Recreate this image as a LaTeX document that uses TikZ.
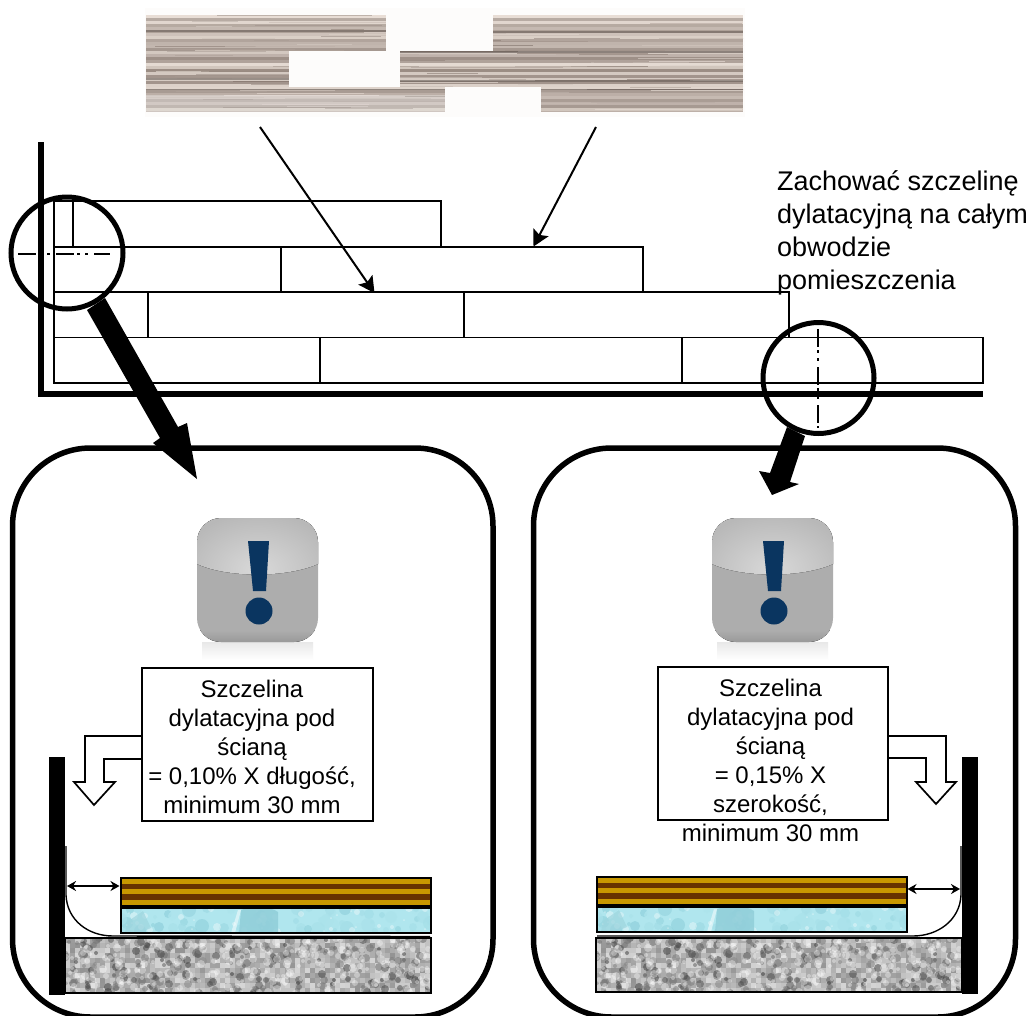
\documentclass[tikz,border=0pt]{standalone}
\usepackage{fontspec}
\setmainfont{Liberation Sans}
\usetikzlibrary{shadings,arrows.meta}
\definecolor{navy}{HTML}{0A3560}
\definecolor{woodgold}{HTML}{C89800}
\definecolor{woodbrown}{HTML}{663300}
\definecolor{foam}{HTML}{B0E6EE}
\definecolor{foamdark}{HTML}{86CAD6}
\definecolor{stripedark}{HTML}{85766E}
\definecolor{stripelight}{HTML}{F0E6DE}
\definecolor{sheet}{HTML}{FDFCFB}
\tikzset{
  plank/.style={draw=black,line width=1.7pt,fill=white},
  wallbar/.style={fill=black},
  pointer/.style={line width=2pt,-{Stealth[length=16pt,width=17pt,inset=3pt]}},
  lens/.style={draw=black,line width=5pt},
  centerline/.style={line width=2pt,dash pattern=on 18pt off 3pt on 3pt off 5pt on 3pt off 6pt},
  panel/.style={draw=black,line width=5.5pt,rounded corners=78pt,outer sep=0pt},
  bigarrow/.style={fill=black},
  calloutbox/.style={draw=black,line width=1.8pt,fill=white,inner sep=0pt,outer sep=0pt,anchor=north west},
  callouttext/.style={inner sep=0pt,align=center,anchor=north,font=\fontsize{24}{29}\selectfont},
  openarrow/.style={draw=black,line width=1.7pt,fill=white},
  gap/.style={line width=1.8pt,{Stealth[length=9pt,width=10pt]}-{Stealth[length=9pt,width=10pt]}},
  thinline/.style={line width=1.4pt},
}
% laminate and foam layers, origin at the top left of the laminate
\newcommand{\floorstack}{%
  \fill[woodgold] (0,0) rectangle (310,28);
  \fill[woodbrown] (0,5.5) rectangle (310,11);
  \fill[woodbrown] (0,15.5) rectangle (310,21.5);
  \draw[black,line width=1.6pt] (0,0) rectangle (310,28);
  \begin{scope}
    \clip (0,30) rectangle (310,55);
    \fill[foam] (0,30) rectangle (310,55);
    \pgfmathsetseed{77}
    \foreach \i in {1,...,70}{
      \pgfmathrandominteger{\rx}{0}{310}
      \pgfmathrandominteger{\ry}{30}{55}
      \pgfmathrandominteger{\rr}{2}{7}
      \pgfmathrandominteger{\rm}{0}{80}
      \fill[foamdark!\rm!foam,opacity=.7] (\rx,\ry) circle (\rr);
    }
    \foreach \i in {1,...,40}{
      \pgfmathrandominteger{\rx}{0}{310}
      \pgfmathrandominteger{\ry}{30}{55}
      \pgfmathrandominteger{\rr}{1}{4}
      \fill[white,opacity=.35] (\rx,\ry) circle (\rr);
    }
    \fill[foamdark!90!white,opacity=.9] (120,32) .. controls (128,28) and (150,28) .. (157,34) -- (157,55) -- (118,55) -- cycle;
    \fill[white,opacity=.5] (110,55) -- (117,32) -- (120,32) -- (114,55) -- cycle;
    \fill[foamdark!80!white,opacity=.7] (6,44) -- (22,33) -- (30,50) -- (18,55) -- (4,55) -- cycle;
  \end{scope}
  \draw[black,line width=1.6pt] (0,30) rectangle (310,55);
}
% grey speckled screed
\newcommand{\screed}[4]{%
  \begin{scope}
    \clip (#1,#2) rectangle (#3,#4);
    \fill[black!30!white] (#1,#2) rectangle (#3,#4);
    \pgfmathsetseed{4242}
    \foreach \cx in {0,5,...,365}{
      \foreach \cy in {0,5,...,55}{
        \pgfmathrandominteger{\rg}{16}{42}
        \fill[black!\rg!white] ({#1+\cx},{#2+\cy}) rectangle +(5,5);
      }
    }
    \foreach \i in {1,...,240}{
      \pgfmathrandominteger{\rx}{0}{366}
      \pgfmathrandominteger{\ry}{0}{55}
      \pgfmathrandominteger{\rg}{45}{75}
      \pgfmathrandominteger{\rr}{2}{4}
      \fill[black!\rg!white,opacity=.55] ({#1+\rx},{#2+\ry}) circle (\rr);
    }
    \foreach \i in {1,...,200}{
      \pgfmathrandominteger{\rx}{0}{366}
      \pgfmathrandominteger{\ry}{0}{55}
      \pgfmathrandominteger{\rr}{2}{4}
      \fill[white,opacity=.35] ({#1+\rx},{#2+\ry}) circle (\rr);
    }
  \end{scope}
  \draw[black,line width=1.4pt] (#1,#2) rectangle (#3,#4);
}
% warning icon, origin at top left of the square
\newcommand{\warnicon}{%
  \fill[top color=black!9,bottom color=white] (5,124) rectangle (116,142);
  \fill[rounded corners=24pt,black!32] (0,0) rectangle (121,124);
  \begin{scope}
    \clip[rounded corners=24pt] (0,0) rectangle (121,124);
    \begin{scope}
      \clip (0,0) -- (121,0) -- (121,46) .. controls (90,60) and (30,60) .. (0,46) -- cycle;
      \fill[inner color=black!15,outer color=black!28] (-20,-6) rectangle (141,110);
    \end{scope}
    \fill[top color=black!32,bottom color=black!40] (0,112) rectangle (121,124);
  \end{scope}
  \fill[navy] (51,23) -- (72,23) -- (69,73) -- (56,73) -- cycle;
  \fill[navy] (62,93) circle (13.5);
}
\begin{document}
\begin{tikzpicture}[x=1pt,y=-1pt]
\useasboundingbox (0,0) rectangle (1031,1015);
\clip (0,0) rectangle (1031,1015);
\fill[white] (0,0) rectangle (1031,1015);

% photo of the floor boards
\fill[sheet] (145,8) rectangle (745,117);
\begin{scope}
  \clip (146,15) rectangle (743,113);
  \pgfmathsetseed{31}
  \foreach \sy in {15,18,...,113}{
    \pgfmathrandominteger{\rm}{5}{80}
    \fill[stripedark!\rm!stripelight] (146,\sy) rectangle (743,\sy+3.1);
  }
  \foreach \i in {1,...,90}{
    \pgfmathrandominteger{\rx}{146}{660}
    \pgfmathrandominteger{\ry}{15}{112}
    \pgfmathrandominteger{\rl}{30}{160}
    \pgfmathrandominteger{\rm}{10}{100}
    \fill[stripedark!\rm!stripelight,opacity=.7] (\rx,\ry) rectangle (\rx+\rl,\ry+1.4);
  }
  \fill[white,opacity=.3] (146,95) rectangle (445,113);
  \fill[stripedark!70!black,opacity=.6] (400,51) rectangle (743,52.6);
  \fill[stripedark!70!black,opacity=.6] (146,88.5) rectangle (445,90);
  \fill[stripedark!70!black,opacity=.6] (541,88.5) rectangle (743,90);
  \fill[stripedark!70!black,opacity=.5] (146,30) rectangle (386,31.5);
  \fill[stripedark!70!black,opacity=.5] (493,31) rectangle (743,32.5);
  \fill[stripedark!70!black,opacity=.5] (146,78) rectangle (289,79.5);
  \fill[stripedark!70!black,opacity=.5] (400,80) rectangle (743,81.5);
\end{scope}
\fill[sheet] (386,14) rectangle (493,51);
\fill[sheet] (289,51) rectangle (400,87);
\fill[sheet] (445,87) rectangle (541,114);
\fill[sheet] (145,112) rectangle (745,117);

% wall corner
\fill[wallbar] (38,142) rectangle (44,397);
\fill[wallbar] (39,391) rectangle (983,397);

% planks
\draw[plank] (54,201) rectangle (73,247);
\draw[plank] (73,201) rectangle (441,247);
\draw[plank] (54,247) rectangle (281,292);
\draw[plank] (281,247) rectangle (643,292);
\draw[plank] (54,292) rectangle (148,337.5);
\draw[plank] (148,292) rectangle (464,337.5);
\draw[plank] (464,292) rectangle (789,337.5);
\draw[plank] (54,337.5) rectangle (320,383);
\draw[plank] (320,337.5) rectangle (682,383);
\draw[plank] (682,337.5) rectangle (983,383);

% pointers from the photo to the planks
\coordinate (photoA) at (260,127);
\coordinate (rowC) at (374.5,293);
\coordinate (photoB) at (596,127);
\coordinate (rowB) at (533.5,246.5);
\draw[pointer] (photoA) -- (rowC);
\draw[pointer] (photoB) -- (rowB);

% note
\node[inner sep=0pt,anchor=north west,align=left,font=\fontsize{27}{33.2}\selectfont] (note) at (777,170)
  {Zachować szczelinę\\dylatacyjną na całym\\obwodzie\\pomieszczenia};

% panels
\node[panel,fill=white,minimum width=480.5pt,minimum height=569pt,inner sep=0pt,anchor=north west] (panelL) at (12.5,448) {};
\node[panel,fill=white,minimum width=482pt,minimum height=569pt,inner sep=0pt,anchor=north west] (panelR) at (533.5,448) {};

% centre lines and lenses
\coordinate (axisLa) at (18,253.5);
\coordinate (axisLb) at (110,253.5);
\coordinate (axisRa) at (818.3,329);
\coordinate (axisRb) at (818.3,428);
\draw[centerline] (axisLa) -- (axisLb);
\draw[centerline] (axisRa) -- (axisRb);
\fill[wallbar] (38,200) rectangle (44,320);
\node[lens,circle,minimum size=112pt,inner sep=0pt,outer sep=0pt] (lensL) at (67,253) {};
\node[lens,circle,minimum size=111pt,inner sep=0pt,outer sep=0pt] (lensR) at (818.5,378) {};

% large arrows
\fill[bigarrow] (87,310) -- (160,438) -- (153,443) -- (197,479) -- (187,423) -- (178,427) -- (105,298) -- cycle;
\fill[bigarrow] (787,427) -- (770,473) -- (759,471) -- (772,495) -- (799,484) -- (790,482) -- (805,436) -- cycle;

% icons
\begin{scope}[shift={(197,518)}] \warnicon \end{scope}
\begin{scope}[shift={(712,518)}] \warnicon \end{scope}

% left detail
\draw[openarrow] (142,736) -- (85,736) -- (85,782) -- (74,782) -- (94,805) -- (115,782) -- (104,782) -- (104,759) -- (142,759);
\node[calloutbox,minimum width=231pt,minimum height=153pt] (boxL) at (142,668) {};
\node[callouttext] (textL) at (252,680)
  {Szczelina\\dylatacyjna pod\\ścianą\\= 0,10\% X długość,\\minimum 30 mm};
\screed{65}{938}{431}{993}
\begin{scope}[shift={(121,878)}] \floorstack \end{scope}
\fill[wallbar] (49,757) rectangle (65,995);
\coordinate (jointLa) at (66,846);
\coordinate (jointLb) at (66,895);
\coordinate (jointLc) at (113,936);
\coordinate (jointLd) at (430,936.5);
\draw[thinline] (jointLa) -- (jointLb) .. controls (67,920) and (88,936) .. (jointLc) -- (jointLd);
\coordinate (gapLa) at (67,886);
\coordinate (gapLb) at (119.5,886);
\draw[gap] (gapLa) -- (gapLb);

% right detail
\draw[openarrow] (888,736) -- (946,736) -- (946,782) -- (956,782) -- (936,804) -- (916,782) -- (926,782) -- (926,758) -- (888,758);
\node[calloutbox,minimum width=230pt,minimum height=153pt] (boxR) at (658,667) {};
\node[callouttext] (textR) at (770.5,679)
  {Szczelina\\dylatacyjna pod\\ścianą\\= 0,15\% X\\szerokość,\\minimum 30 mm};
\screed{596}{938}{962}{992}
\begin{scope}[shift={(597,877)}] \floorstack \end{scope}
\fill[wallbar] (962,757) rectangle (978,994);
\coordinate (jointRa) at (961,846);
\coordinate (jointRb) at (961,895);
\coordinate (jointRc) at (913,936);
\coordinate (jointRd) at (597,936);
\draw[thinline] (jointRa) -- (jointRb) .. controls (960,920) and (938,936) .. (jointRc) -- (jointRd);
\coordinate (gapRa) at (907.5,889);
\coordinate (gapRb) at (960,889);
\draw[gap] (gapRa) -- (gapRb);
\end{tikzpicture}
\end{document}
